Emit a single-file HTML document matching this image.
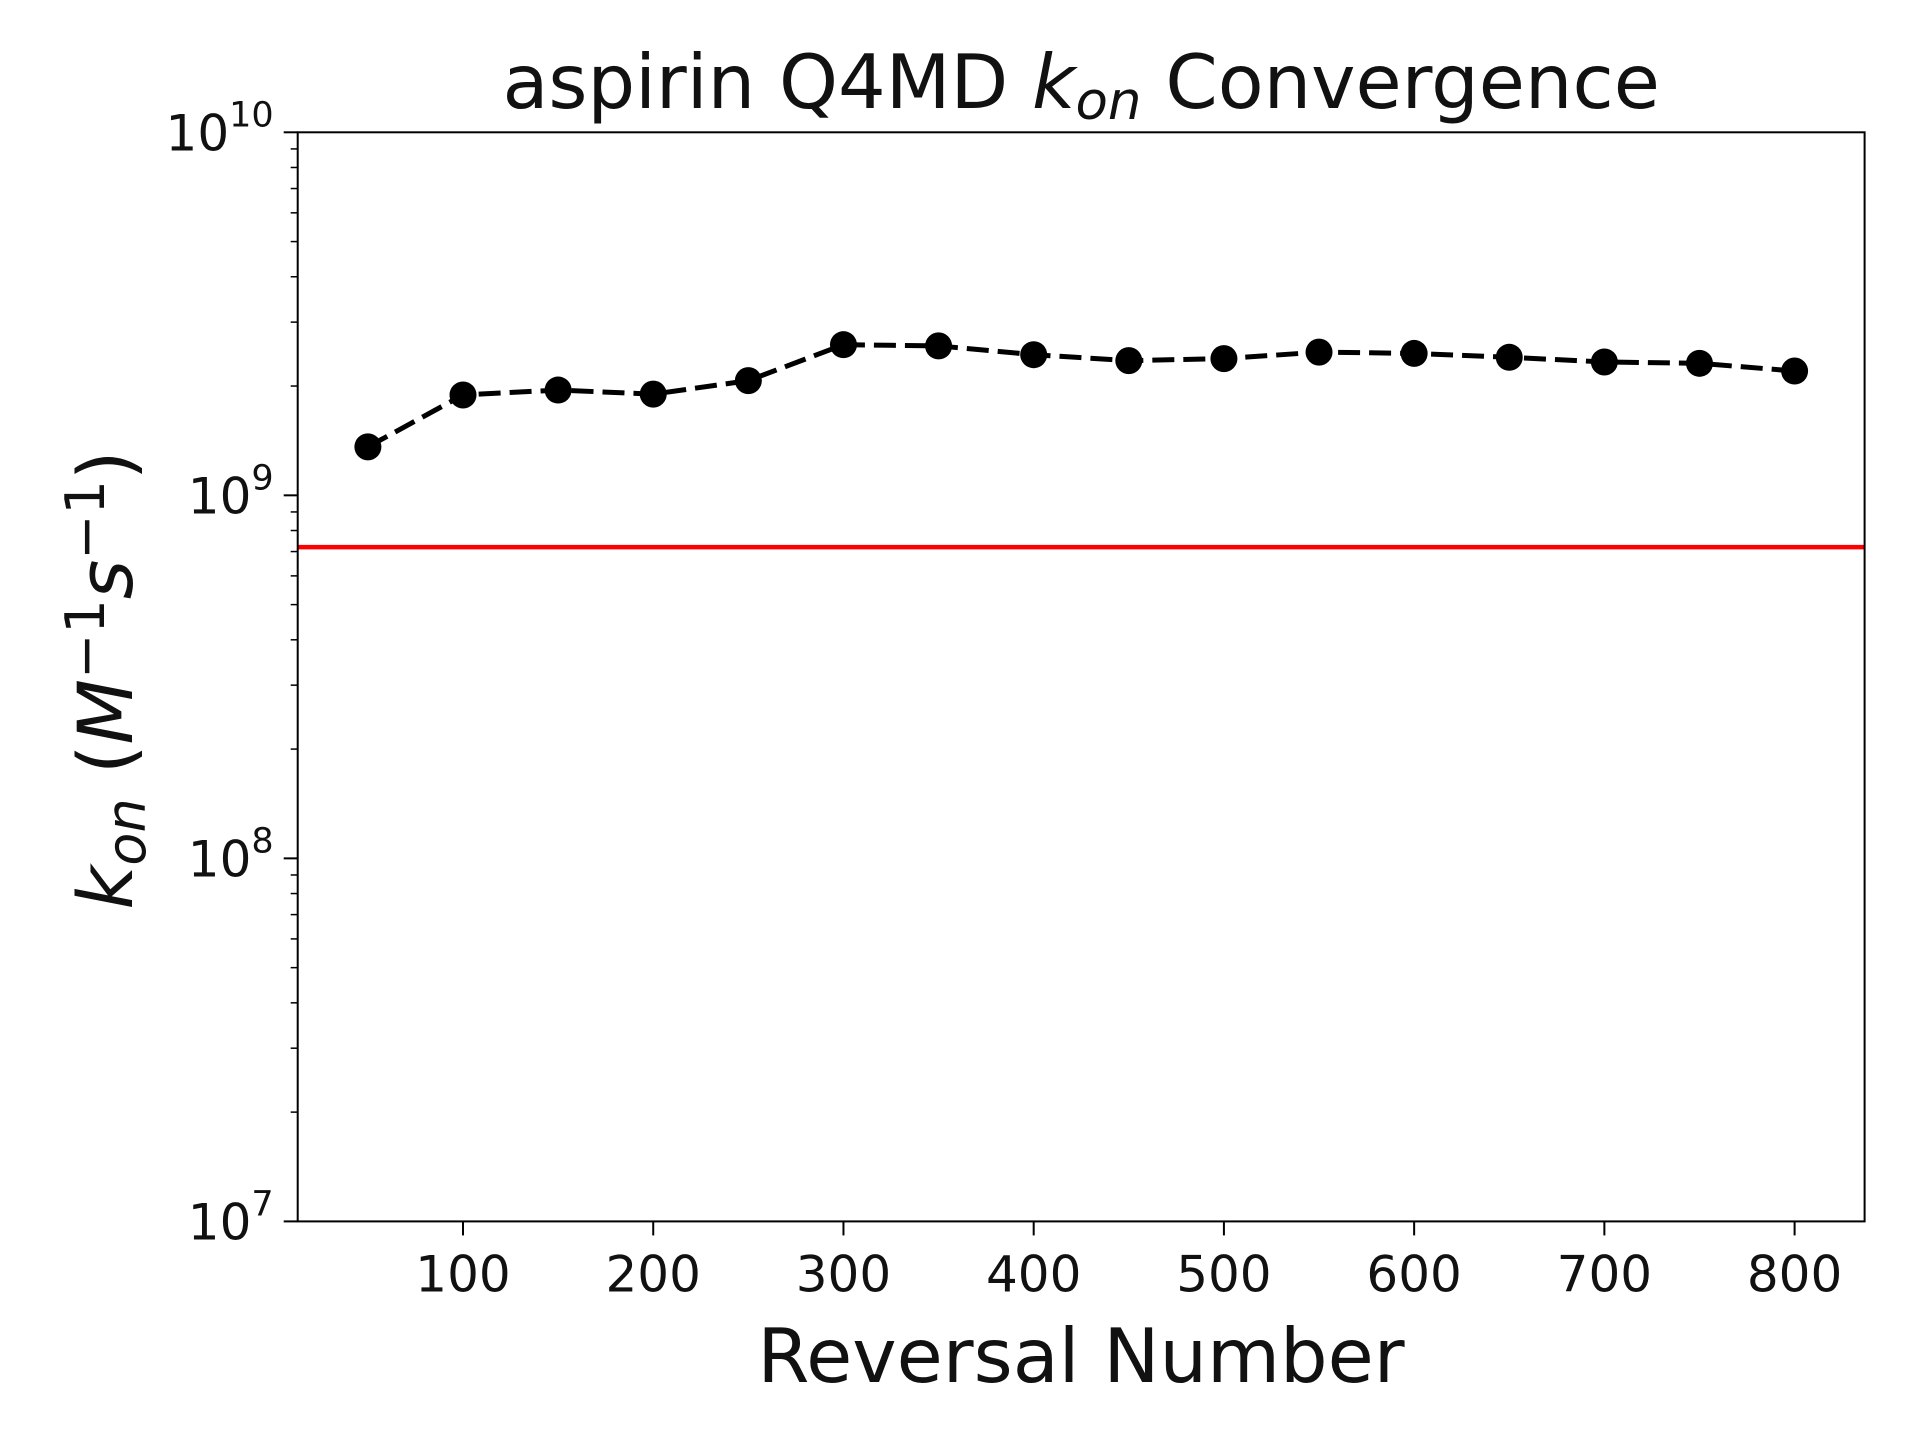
<!DOCTYPE html>
<html><head><meta charset="utf-8"><style>
html,body{margin:0;padding:0;background:#fff;}
svg{display:block;font-family:"DejaVu Sans","Liberation Sans",sans-serif;}
</style></head><body>
<svg id="chart" width="1920" height="1440" viewBox="0 0 1920 1440"></svg>
<script>
const xValues=[50,100,150,200,250,300,350,400,450,500,550,600,650,700,750,800];
const konValues=[1.36e9,1.89e9,1.95e9,1.90e9,2.07e9,2.60e9,2.58e9,2.44e9,2.35e9,2.38e9,2.48e9,2.46e9,2.40e9,2.33e9,2.31e9,2.20e9];
const referenceKon=[7.2e8];
const xTicks=[100,200,300,400,500,600,700,800];
const yDecades=[7,8,9,10];
const xDomain=[13.1,836.8];
const yDomain=[7,10];

const L=297.7,R=1864.6,T=132.3,B=1221.4;
const NS="http://www.w3.org/2000/svg";
const svg=document.getElementById('chart');
function xs(v){return L+(v-xDomain[0])/(xDomain[1]-xDomain[0])*(R-L);}
function ys(v){return B-(Math.log10(v)-yDomain[0])/(yDomain[1]-yDomain[0])*(B-T);}
function mk(tag,attrs,parent){const e=document.createElementNS(NS,tag);for(const k in attrs)e.setAttribute(k,attrs[k]);(parent||svg).appendChild(e);return e;}

for(const d of yDecades){
  const y=ys(Math.pow(10,d));
  const t=mk('line',{x1:L-14,x2:L,y1:y,y2:y,stroke:'#000','stroke-width':2});
  
  
  const lb=mk('text',{x:L-24,y:y+18,'text-anchor':'end','font-size':50,fill:'#111'});
  
  
  lb.textContent='10';
  const sp=mk('tspan',{dy:-24,'font-size':35},lb);sp.textContent=String(d);
  if(d<yDomain[1]){
    for(let m=2;m<=9;m++){
      const yy=ys(m*Math.pow(10,d));
      const mt=mk('line',{x1:L-7,x2:L,y1:yy,y2:yy,stroke:'#000','stroke-width':1.5});
      
      
    }
  }
}
for(const v of xTicks){
  const x=xs(v);
  const t=mk('line',{x1:x,x2:x,y1:B,y2:B+14,stroke:'#000','stroke-width':2});
  
  
  const lb=mk('text',{x:x,y:B+70,'text-anchor':'middle','font-size':50,fill:'#111'});
  
  
  lb.textContent=String(v);
}
for(const r of referenceKon){
  const rl=mk('line',{x1:L,x2:R,y1:ys(r),y2:ys(r),stroke:'#ff0000','stroke-width':4.5});
  
  
}
const pts=xValues.map((v,i)=>xs(v)+','+ys(konValues[i])).join(' ');
const pl=mk('polyline',{points:pts,fill:'none',stroke:'#000','stroke-width':5,'stroke-dasharray':'22,9'});


xValues.forEach((v,i)=>{
  const c=mk('circle',{cx:xs(v),cy:ys(konValues[i]),r:13.5,fill:'#000'});
  
  
});
const fr=mk('rect',{x:L,y:T,width:R-L,height:B-T,fill:'none',stroke:'#000','stroke-width':2});


const ti=mk('text',{x:(L+R)/2,y:108,'text-anchor':'middle','font-size':75,fill:'#111'});


ti.innerHTML='aspirin Q4MD <tspan font-style="italic">k</tspan><tspan font-style="italic" font-size="53" dy="11">on</tspan><tspan dy="-11"> Convergence</tspan>';
const xl=mk('text',{x:1081,y:1382,'text-anchor':'middle','font-size':75,fill:'#111'});


xl.textContent='Reversal Number';
const yl=mk('text',{x:0,y:0,'text-anchor':'middle','font-size':76,fill:'#111',transform:'translate(132,680) rotate(-90)'});


yl.innerHTML='<tspan font-style="italic">k</tspan><tspan font-style="italic" font-size="54" dy="13">on</tspan><tspan dy="-13">  (</tspan><tspan font-style="italic">M</tspan><tspan font-size="54" dy="-28">−1</tspan><tspan font-style="italic" dy="28">s</tspan><tspan font-size="54" dy="-28">−1</tspan><tspan dy="28">)</tspan>';
</script>
</body></html>
